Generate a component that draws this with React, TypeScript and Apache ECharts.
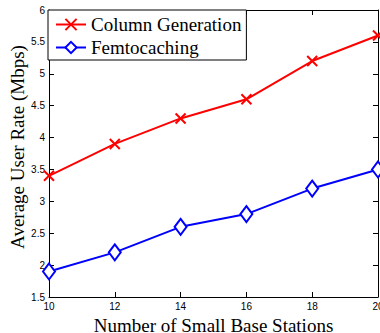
import React, { useEffect, useRef } from "react";
import * as echarts from "echarts";

const stations = [10, 12, 14, 16, 18, 20];
const columnGeneration = [3.4, 3.9, 4.3, 4.6, 5.2, 5.6];
const femtocaching = [1.9, 2.2, 2.6, 2.8, 3.2, 3.5];
const seriesNames = ["Column Generation", "Femtocaching"];
const xTitle = "Number of Small Base Stations";
const yTitle = "Average User Rate (Mbps)";

const serif = "'Liberation Serif', 'Times New Roman', serif";
const sans = "'Liberation Sans', Arial, sans-serif";

export default function App() {
  const ref = useRef<HTMLDivElement>(null);
  useEffect(() => {
    document.body.style.margin = "0";
    const chart = echarts.init(ref.current!, null, { renderer: "svg" });
    const axisCommon = {
      axisLine: { show: true, lineStyle: { color: "#000", width: 1 } },
      axisTick: { show: true, inside: true, length: 5, lineStyle: { color: "#000" } },
      splitLine: { show: false },
    };
    chart.setOption({
      animation: false,
      backgroundColor: "#fff",
      grid: { left: 49, top: 10, right: 2, bottom: 36, containLabel: false, outerBoundsMode: "none" },
      legend: {
        orient: "vertical",
        left: 48,
        top: 10,
        data: seriesNames,
        borderColor: "#000",
        borderWidth: 1,
        borderRadius: 0,
        backgroundColor: "#fff",
        padding: [5, 5, 3, 7],
        itemWidth: 30,
        itemHeight: 14,
        itemGap: 4,
        textStyle: { fontFamily: serif, fontSize: 19, color: "#000" },
      },
      graphic: [
        {
          type: "text",
          x: 17,
          y: 147,
          rotation: Math.PI / 2,
          style: {
            text: yTitle,
            font: `19px ${serif}`,
            fill: "#000",
            align: "center",
            verticalAlign: "middle",
          },
        },
      ],
      xAxis: [
        {
          type: "value",
          min: 10,
          max: 20,
          interval: 2,
          name: xTitle,
          nameLocation: "middle",
          nameGap: 14,
          nameTextStyle: { fontFamily: serif, fontSize: 19, color: "#000", lineHeight: 19 },
          axisLabel: { fontFamily: sans, fontSize: 10, color: "#000", margin: 4 },
          ...axisCommon,
        },
        {
          type: "value",
          min: 10,
          max: 20,
          interval: 2,
          position: "top",
          axisLabel: { show: false },
          ...axisCommon,
        },
      ],
      yAxis: [
        {
          type: "value",
          min: 1.5,
          max: 6,
          interval: 0.5,
          axisLabel: { fontFamily: sans, fontSize: 10, color: "#000", margin: 4 },
          ...axisCommon,
        },
        {
          type: "value",
          min: 1.5,
          max: 6,
          interval: 0.5,
          position: "right",
          axisLabel: { show: false },
          ...axisCommon,
        },
      ],
      series: [
        {
          name: seriesNames[0],
          type: "line",
          data: stations.map((s, i) => [s, columnGeneration[i]]),
          symbol: "path://M0,0L10,10M10,0L0,10",
          symbolSize: 10,
          lineStyle: { color: "#ff0000", width: 2 },
          itemStyle: { color: "#ff0000", borderColor: "#ff0000", borderWidth: 2 },
          z: 3,
        },
        {
          name: seriesNames[1],
          type: "line",
          data: stations.map((s, i) => [s, femtocaching[i]]),
          symbol: "diamond",
          symbolSize: [12, 16],
          lineStyle: { color: "#0000ff", width: 2 },
          itemStyle: { color: "#fff", borderColor: "#0000ff", borderWidth: 2 },
          z: 3,
        },
      ],
    });
    return () => chart.dispose();
  }, []);
  return <div ref={ref} style={{ width: 380, height: 333 }} />;
}
